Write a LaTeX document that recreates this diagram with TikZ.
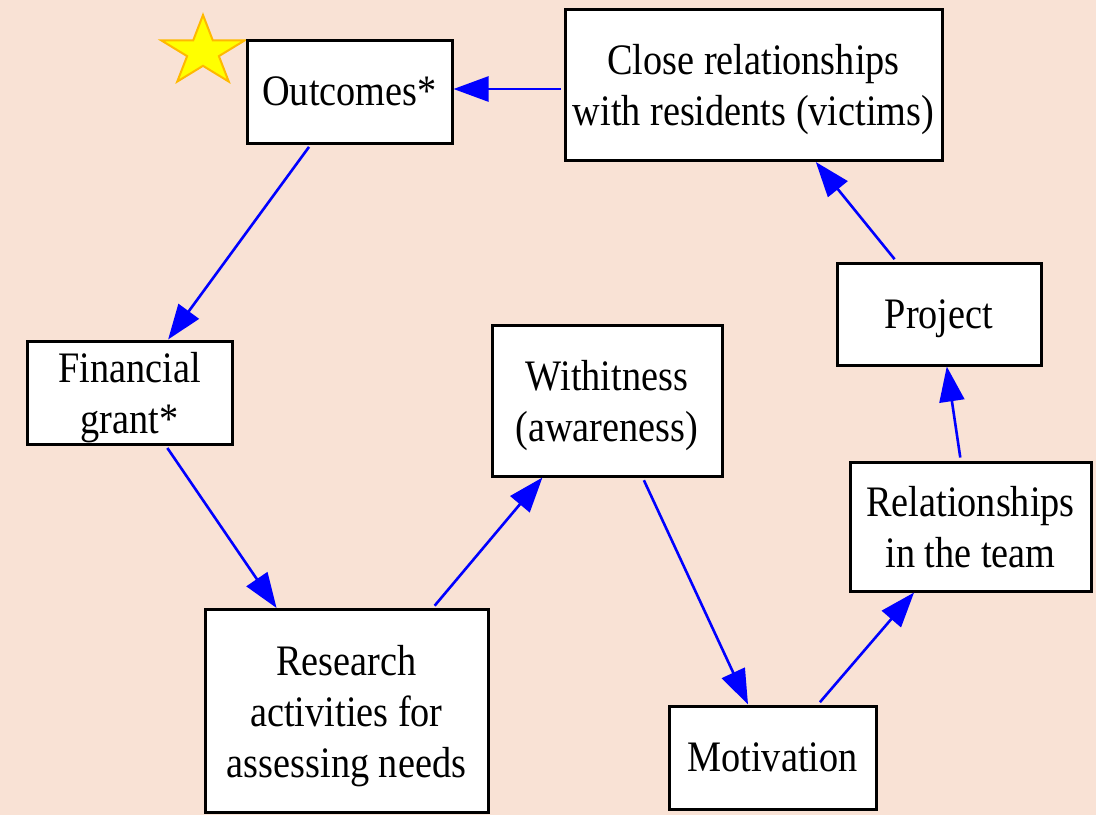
\documentclass[tikz,border=0pt]{standalone}
\usepackage{fontspec}
\setmainfont{Liberation Serif}[FakeStretch=0.88]
\usetikzlibrary{arrows.meta}
\definecolor{bgpeach}{RGB}{249,226,213}
\definecolor{starfill}{RGB}{255,255,0}
\definecolor{starline}{RGB}{255,185,0}
\definecolor{arrblue}{RGB}{0,0,255}
\tikzset{
  box/.style={draw=black, fill=white, line width=3pt, inner sep=0pt, align=center,
    text depth=0pt, font=\fontsize{43.5}{51}\selectfont},
  conn/.style={draw=arrblue, line width=2.6pt, shorten <=3pt,
    -{Triangle[length=35pt,width=25pt]}},
  starsty/.style={fill=starfill, draw=starline, line width=2pt, line join=miter}
}
\begin{document}
\begin{tikzpicture}[x=1pt,y=-1pt]
\fill[bgpeach] (0,0) rectangle (1096,815);
\useasboundingbox (0,0) rectangle (1096,815);
% star
\begin{scope}[shift={(203,51.8)}, yscale=-0.84]
\path[starsty] (90:43.8) -- (126:16.7) -- (162:43.8) -- (198:16.7) -- (234:43.8) -- (270:16.7) -- (306:43.8) -- (342:16.7) -- (18:43.8) -- (54:16.7) -- cycle;
\end{scope}
% nodes
\node[box, minimum width=205pt, minimum height=103pt] (out) at (349.5,91.5) {Outcomes*};
\node[box, minimum width=377pt, minimum height=151pt] (close) at (753.5,85) {Close relationships\\with residents (victims)};
\node[box, minimum width=205pt, minimum height=103pt] (fin) at (129.5,392.5) {Financial\\grant*};
\node[box, minimum width=230pt, minimum height=151pt] (with) at (607,400.5) {Withitness\\(awareness)};
\node[box, minimum width=204pt, minimum height=102pt] (proj) at (939,314) {Project};
\node[box, minimum width=241pt, minimum height=129pt] (rel) at (970.5,526.5) {Relationships\\in the team};
\node[box, minimum width=283pt, minimum height=203pt] (res) at (346.5,711) {Research\\activities for\\assessing needs};
\node[box, minimum width=207pt, minimum height=103pt] (mot) at (772.5,757.5) {Motivation};
% connectors
\draw[conn] (close.west |- 0,89) -- (out.east |- 0,89);
\draw[conn] (out) -- (fin);
\draw[conn] (fin) -- (res);
\draw[conn] (res) -- (with);
\draw[conn] (with) -- (mot);
\draw[conn] (mot) -- (rel);
\draw[conn] (rel) -- (proj);
\draw[conn] (proj) -- (close);
\end{tikzpicture}
\end{document}
